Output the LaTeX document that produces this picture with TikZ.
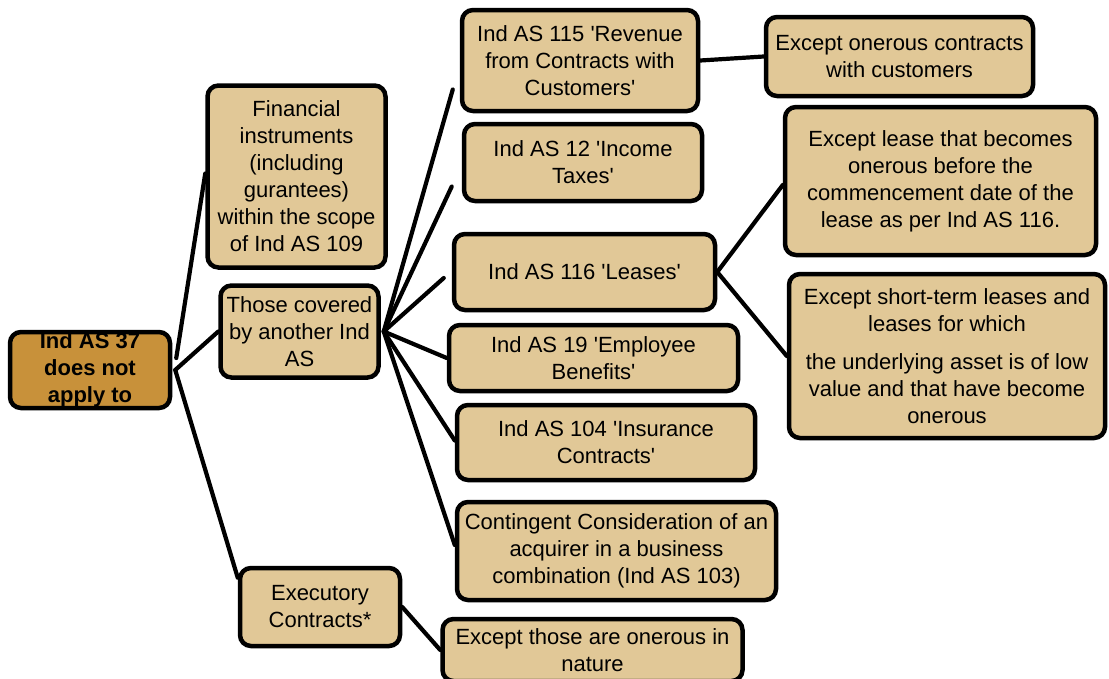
\documentclass[tikz,border=0pt]{standalone}
\usepackage{fontspec}
\setmainfont{Liberation Sans}
\definecolor{tan}{RGB}{225,200,151}
\definecolor{gold}{RGB}{200,145,58}
\newcommand{\sq}{\textquotesingle}
\begin{document}
\begin{tikzpicture}[x=1pt,y=-1pt,
  box/.style={draw=black, line width=4.5pt, rounded corners=11pt, fill=tan, align=center,
    font=\fontsize{22}{27}\selectfont, inner sep=0pt},
  link/.style={line width=4.2pt, line cap=round}]
\useasboundingbox (0,0) rectangle (1109,678);
\clip (0,0) rectangle (1109,678);
\node[box, fill=gold, font=\bfseries\fontsize{22}{27}\selectfont, minimum width=160pt, minimum height=76pt] (root) at (90,370) {Ind AS 37\\does not\\apply to};
\node[box, minimum width=178pt, minimum height=182pt] (fin) at (296.5,176.5) {Financial\\instruments\\(including\\gurantees)\\within the scope\\of Ind AS 109};
\node[box, minimum width=158pt, minimum height=92pt] (those) at (299.5,331.5) {Those covered\\by another Ind\\AS};
\node[box, minimum width=160pt, minimum height=78pt] (exec) at (320,607) {Executory\\Contracts*};
\node[box, minimum width=300pt, minimum height=62pt] (excthose) at (592.5,650) {Except those are onerous in\\nature};
\node[box, minimum width=236pt, minimum height=101pt] (ias115) at (580,60.5) {Ind AS 115 \sq Revenue\\from Contracts with\\Customers\sq};
\node[box, minimum width=238pt, minimum height=77pt] (ias12) at (583,162.5) {Ind AS 12 \sq Income\\Taxes\sq};
\node[box, minimum width=261pt, minimum height=76pt] (ias116) at (584.5,272) {Ind AS 116 \sq Leases\sq};
\node[box, minimum width=289pt, minimum height=66pt] (ias19) at (593.5,358) {Ind AS 19 \sq Employee\\Benefits\sq};
\node[box, minimum width=298pt, minimum height=75pt] (ias104) at (606,442.5) {Ind AS 104 \sq Insurance\\Contracts\sq};
\node[box, minimum width=319pt, minimum height=98pt] (cont) at (616.5,551) {Contingent Consideration of an\\acquirer in a business\\combination (Ind AS 103)};
\node[box, minimum width=267pt, minimum height=79pt] (exc1) at (899.5,56.5) {Except onerous contracts\\with customers};
\node[box, minimum width=311pt, minimum height=148pt] (lease) at (940.5,181) {Except lease that becomes\\onerous before the\\commencement date of the\\lease as per Ind AS 116.};
\node[box, minimum width=316pt, minimum height=164pt] (short) at (947,356) {Except short-term leases and\\leases for which\\[11pt]the underlying asset is of low\\value and that have become\\onerous};
% connectors
\draw[link] ([shift={(4pt,12pt)}]root.east) -- ([yshift=3pt]fin.west);
\draw[link] ([xshift=3pt]root.east) -- (those.west);
\draw[link] ([xshift=3pt]root.east) -- ([yshift=-12pt]exec.north west);
\draw[link] (exec.east) -- (excthose.west);
\draw[link] ([xshift=3pt]those.east) -- ([shift={(-7pt,-29pt)}]ias115.west);
\draw[link] ([xshift=3pt]those.east) -- ([shift={(-10pt,-24pt)}]ias12.west);
\draw[link] ([xshift=3pt]those.east) -- ([shift={(-8pt,-6pt)}]ias116.west);
\draw[link] ([xshift=3pt]those.east) -- (ias19.west);
\draw[link] ([xshift=3pt]those.east) -- ([yshift=2pt]ias104.west);
\draw[link] ([xshift=3pt]those.east) -- ([yshift=6pt]cont.west);
\draw[link] (ias115.east) -- (exc1.west);
\draw[link] (ias116.east) -- ([yshift=-4pt]lease.west);
\draw[link] (ias116.east) -- (short.west);
\end{tikzpicture}
\end{document}
